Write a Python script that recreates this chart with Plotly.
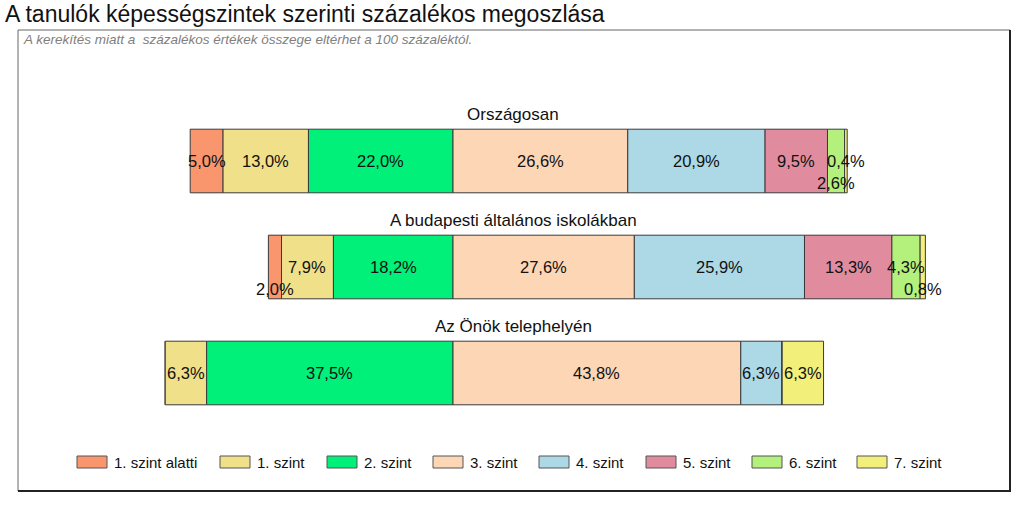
import plotly.graph_objects as go

# ---- data ----
groups = ["Országosan", "A budapesti általános iskolákban", "Az Önök telephelyén"]
levels = ["1. szint alatti", "1. szint", "2. szint", "3. szint",
          "4. szint", "5. szint", "6. szint", "7. szint"]
below_alatti = [5.0, 2.0, 0.0]
lvl1 = [13.0, 7.9, 6.3]
lvl2 = [22.0, 18.2, 37.5]
lvl3 = [26.6, 27.6, 43.8]
lvl4 = [20.9, 25.9, 6.3]
lvl5 = [9.5, 13.3, 0.0]
lvl6 = [2.6, 4.3, 0.0]
lvl7 = [0.4, 0.8, 6.3]
series = [below_alatti, lvl1, lvl2, lvl3, lvl4, lvl5, lvl6, lvl7]

colors = ["#F9966E", "#F0E08A", "#00F07A", "#FDD6B6",
          "#ADD8E6", "#E08C9E", "#B3F07C", "#F2F07A"]
# labels that are moved below the bar centre to avoid overlap (group, level)
shift_down = {(0, 6), (1, 0), (1, 7)}

title = "A tanulók képességszintek szerinti százalékos megoszlása"
note = "A kerekítés miatt a  százalékos értékek összege eltérhet a 100 százaléktól."

W, H = 1024, 511
FONT = "Liberation Sans, Arial, sans-serif"


def px(x):
    return x / W


def py(y):
    return 1 - y / H


fig = go.Figure()
ys = list(range(len(groups)))
n_left = 3  # levels below 3. szint drawn to the left

annotations = []
for gi in ys:
    left_edges = {}
    pos = 0.0
    for li in range(n_left - 1, -1, -1):
        pos -= series[li][gi]
        left_edges[li] = pos
    pos = 0.0
    for li in range(n_left, len(levels)):
        left_edges[li] = pos
        pos += series[li][gi]
    for li in range(len(levels)):
        v = series[li][gi]
        if v <= 0:
            continue
        cx = left_edges[li] + v / 2
        annotations.append(dict(
            x=cx, y=gi, xref="x", yref="y", showarrow=False,
            text=f"{v:.1f}%".replace(".", ","),
            font=dict(family=FONT, size=16.5, color="#111111"),
            yshift=-22 if (gi, li) in shift_down else 0,
        ))

for li, name in enumerate(levels):
    base = []
    for gi in ys:
        if li < n_left:
            base.append(-sum(series[k][gi] for k in range(li, n_left)))
        else:
            base.append(sum(series[k][gi] for k in range(n_left, li)))
    fig.add_trace(go.Bar(
        y=ys, x=series[li], base=base, orientation="h", name=name,
        marker=dict(color=colors[li], line=dict(color="#3a3a3a", width=1)),
        width=0.6, showlegend=False, hoverinfo="skip",
    ))

# group titles
for gi, g in enumerate(groups):
    annotations.append(dict(
        x=px(513), y=gi, xref="paper", yref="y", text=g, showarrow=False,
        yshift=47, font=dict(family=FONT, size=17, color="#111111"),
    ))

# main title and note
annotations.append(dict(x=px(3), y=py(14), xref="paper", yref="paper",
                        xanchor="left", yanchor="middle", text=title, showarrow=False,
                        font=dict(family=FONT, size=23, color="#111111")))
annotations.append(dict(x=px(21), y=py(39), xref="paper", yref="paper",
                        xanchor="left", yanchor="middle", text=f"<i>{note}</i>",
                        showarrow=False, font=dict(family=FONT, size=13.5, color="#808080")))

# custom legend
shapes = []
leg_x = [77, 220, 327, 433, 539, 646, 752, 857]
leg_y = 462
for li, name in enumerate(levels):
    x0 = leg_x[li]
    shapes.append(dict(type="rect", xref="paper", yref="paper",
                       x0=px(x0), x1=px(x0 + 30),
                       y0=py(leg_y + 6), y1=py(leg_y - 6),
                       fillcolor=colors[li], line=dict(color="#555555", width=1)))
    annotations.append(dict(x=px(x0 + 35), y=py(leg_y), xref="paper", yref="paper",
                            xanchor="left", yanchor="middle", text=name, showarrow=False,
                            font=dict(family=FONT, size=15, color="#111111")))

# frame
shapes.append(dict(type="rect", xref="paper", yref="paper",
                   x0=px(18), x1=px(1010), y0=py(491), y1=py(30),
                   line=dict(color="#666666", width=1)))
shapes.append(dict(type="line", xref="paper", yref="paper",
                   x0=px(1010), x1=px(1010), y0=py(492), y1=py(30),
                   line=dict(color="#222222", width=2)))
shapes.append(dict(type="line", xref="paper", yref="paper",
                   x0=px(18), x1=px(1011), y0=py(491), y1=py(491),
                   line=dict(color="#222222", width=2)))

ppu = 6.57
cx_px = 453
cy_px = 161
fig.update_layout(
    width=W, height=H, margin=dict(l=0, r=0, t=0, b=0),
    paper_bgcolor="white", plot_bgcolor="white",
    barmode="overlay",
    xaxis=dict(range=[-cx_px / ppu, (W - cx_px) / ppu], visible=False, fixedrange=True),
    yaxis=dict(range=[(H - cy_px) / 106, -cy_px / 106], visible=False, fixedrange=True),
    annotations=annotations, shapes=shapes,
    showlegend=False,
)

fig.write_html(
    "out.html",
    config={"displayModeBar": False, "staticPlot": True},
    post_script="document.body.style.margin='0';document.body.style.padding='0';"
                "document.body.style.overflow='hidden';",
)
